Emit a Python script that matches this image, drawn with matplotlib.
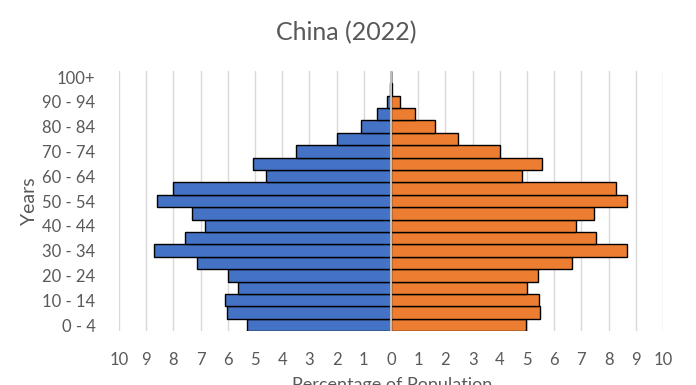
import numpy as np
import matplotlib
matplotlib.use("Agg")
import matplotlib.pyplot as plt

plt.rcParams['font.family'] = ['Lato', 'DejaVu Sans']

# Age groups, bottom to top
age_groups = ["0 - 4", "5 - 9", "10 - 14", "15 - 19", "20 - 24", "25 - 29",
              "30 - 34", "35 - 39", "40 - 44", "45 - 49", "50 - 54", "55 - 59",
              "60 - 64", "65 - 69", "70 - 74", "75 - 79", "80 - 84", "85 - 89",
              "90 - 94", "95 - 99", "100+"]

# Percentage of population
male = [5.30, 6.04, 6.12, 5.63, 5.98, 7.13, 8.72, 7.57, 6.84, 7.30, 8.60,
        8.01, 4.60, 5.07, 3.48, 1.97, 1.10, 0.50, 0.16, 0.03, 0.01]
female = [4.96, 5.49, 5.43, 5.01, 5.40, 6.65, 8.67, 7.52, 6.81, 7.45, 8.69,
          8.28, 4.80, 5.54, 3.99, 2.47, 1.60, 0.90, 0.32, 0.05, 0.01]

tick_values = list(range(-10, 11))

blue = "#4472C4"
orange = "#ED7D31"
text_gray = "#595959"

fig = plt.figure(figsize=(6.96, 3.85), dpi=100)
ax = fig.add_axes([0.171, 0.1397, 0.7816, 0.6763])

y = np.arange(len(age_groups))
ax.barh(y, [-m for m in male], height=1.0, color=blue, edgecolor="black",
        linewidth=1.0, zorder=2)
ax.barh(y, female, height=1.0, color=orange, edgecolor="black",
        linewidth=1.0, zorder=2)

# vertical axis at zero
ax.axvline(0, color="#BFBFBF", linewidth=1.5, zorder=3)

ax.set_xlim(-10, 10)
ax.set_ylim(-0.5, len(age_groups) - 0.5)
ax.set_xticks(tick_values)
ax.set_xticklabels([str(abs(v)) for v in tick_values])
ax.set_yticks(y[::2])
ax.set_yticklabels(age_groups[::2])

ax.grid(axis="x", color="#D9D9D9", linewidth=1.0, zorder=0)
ax.set_axisbelow(True)
for s in ax.spines.values():
    s.set_visible(False)
ax.tick_params(axis="both", length=0, colors=text_gray, labelsize=12)
ax.tick_params(axis="x", pad=15)
ax.tick_params(axis="y", pad=17)

ax.set_ylabel("Years", color=text_gray, fontsize=14)
ax.yaxis.set_label_coords(-0.149, 0.5)
fig.text(0.563, 1 - 377 / 385, "Percentage of Population", ha="center", va="top",
         color=text_gray, fontsize=13)
fig.text(0.497, 1 - 33 / 385, "China (2022)", ha="center", va="center",
         color=text_gray, fontsize=18)

fig.savefig("out.png", dpi=100)
